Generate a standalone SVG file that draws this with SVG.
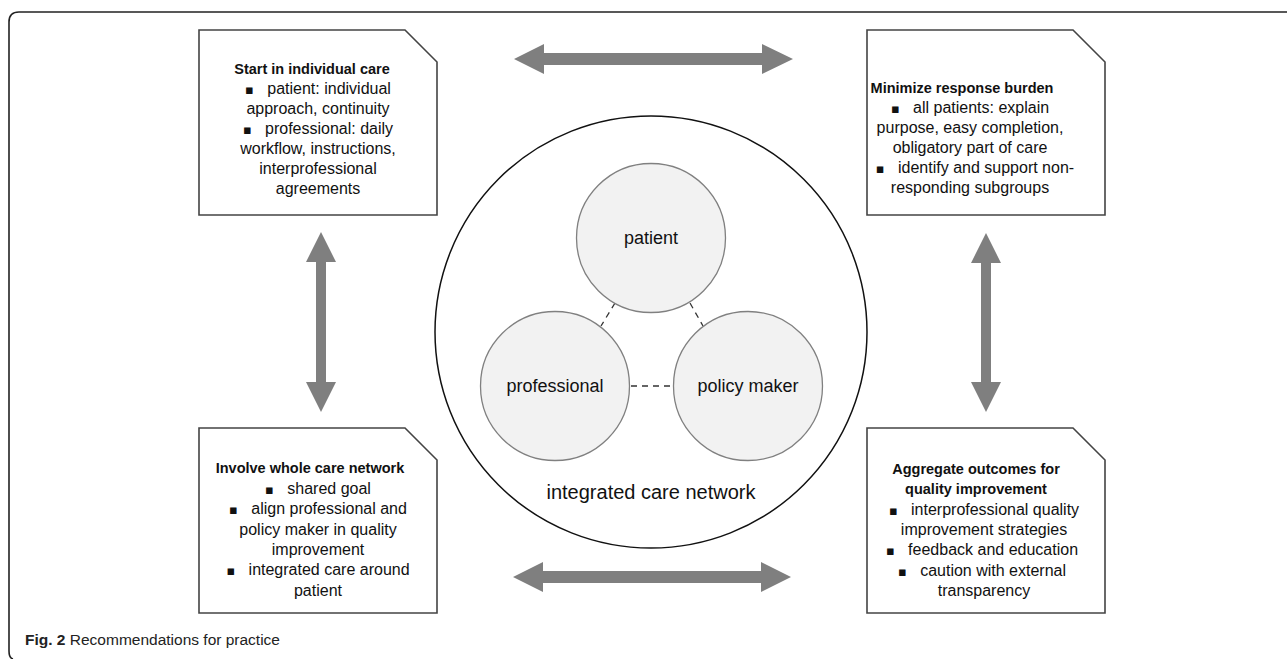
<svg xmlns="http://www.w3.org/2000/svg" width="1287" height="659" viewBox="0 0 1287 659">
  <defs>
    <style>
      .frame { fill: none; stroke: #222; stroke-width: 1.6; }
      .card path { fill: #fff; stroke: #444; stroke-width: 1.6; }
      .card text { font-family: "Liberation Sans", Arial, "DejaVu Sans", sans-serif; font-size: 16px; fill: #111; text-anchor: middle; white-space: pre; }
      .card text.title { font-weight: bold; font-size: 14.5px; }
      .card tspan.b { font-family: "DejaVu Sans", sans-serif; font-size: 13px; }
      .ring { fill: #fff; stroke: #111; stroke-width: 1.5; }
      .actor { fill: #f2f2f2; stroke: #808080; stroke-width: 1.3; }
      .lbl { font-family: "Liberation Sans", Arial, sans-serif; font-size: 18px; fill: #111; text-anchor: middle; }
      .link { stroke: #333; stroke-width: 1.3; stroke-dasharray: 6 5; fill: none; }
      .arrow { fill: #7f7f7f; }
      .caption { font-family: "Liberation Sans", Arial, sans-serif; font-size: 15.5px; fill: #222; }
    </style>
  </defs>

  <rect width="1287" height="659" fill="#fff"/>

  <!-- figure frame: rounded top-left corner, open on the right and bottom -->
  <path class="frame" d="M13,659 Q9,658 9,651 L9,22 Q9,12 19,12 L1287,12"/>

  <!-- double-headed arrows between the recommendation cards -->
  <g id="connectors">
    <!-- top: individual care <-> response burden -->
    <polygon class="arrow" points="514,59 544,44 544,53 762,53 762,44 793,59 762,74 762,65 544,65 544,74"/>
    <!-- bottom: care network <-> aggregate outcomes -->
    <polygon class="arrow" points="513,577 543,562 543,571 761,571 761,562 791,577 761,592 761,583 543,583 543,592"/>
    <!-- left: individual care <-> care network -->
    <polygon class="arrow" points="321,232 336,262 326,262 326,382 336,382 321,412 306,382 316,382 316,262 306,262"/>
    <!-- right: response burden <-> aggregate outcomes -->
    <polygon class="arrow" points="986,233 1001,263 991,263 991,382 1001,382 986,412 971,382 981,382 981,263 971,263"/>
  </g>

  <!-- central integrated care network -->
  <g id="network">
    <circle class="ring" cx="651" cy="332" r="216"/>
    <text class="lbl" x="651" y="499" style="font-size:20px">integrated care network</text>
    <g id="links">
      <line class="link" x1="615" y1="303" x2="601" y2="326"/>
      <line class="link" x1="690" y1="303" x2="703" y2="326"/>
      <line class="link" x1="631" y1="386" x2="673" y2="386"/>
    </g>
    <g id="patient">
      <circle class="actor" cx="651" cy="238" r="74.5"/>
      <text class="lbl" x="651" y="244">patient</text>
    </g>
    <g id="professional">
      <circle class="actor" cx="555" cy="386" r="74.5"/>
      <text class="lbl" x="555" y="392">professional</text>
    </g>
    <g id="policy-maker">
      <circle class="actor" cx="748" cy="386" r="74.5"/>
      <text class="lbl" x="748" y="392">policy maker</text>
    </g>
  </g>

  <!-- recommendation cards (folded top-right corner) -->
  <g id="card-individual-care" class="card">
    <path d="M199,30 L405,30 L437,62 L437,215 L199,215 Z"/>
    <text class="title" x="312" y="74">Start in individual care</text>
    <text x="318" y="94"><tspan class="b">▪</tspan>   patient: individual</text>
    <text x="318" y="114">approach, continuity</text>
    <text x="318" y="134"><tspan class="b">▪</tspan>   professional: daily</text>
    <text x="318" y="154">workflow, instructions,</text>
    <text x="318" y="174">interprofessional</text>
    <text x="318" y="194">agreements</text>
  </g>

  <g id="card-response-burden" class="card">
    <path d="M867,30 L1073,30 L1105,62 L1105,215 L867,215 Z"/>
    <text class="title" x="962" y="93">Minimize response burden</text>
    <text x="970" y="113"><tspan class="b">▪</tspan>   all patients: explain</text>
    <text x="970" y="133">purpose, easy completion,</text>
    <text x="970" y="153">obligatory part of care</text>
    <text x="975" y="173"><tspan class="b">▪</tspan>   identify and support non-</text>
    <text x="970" y="193">responding subgroups</text>
  </g>

  <g id="card-care-network" class="card">
    <path d="M199,428 L405,428 L437,460 L437,613 L199,613 Z"/>
    <text class="title" x="310" y="473">Involve whole care network</text>
    <text x="318" y="494"><tspan class="b">▪</tspan>   shared goal</text>
    <text x="318" y="514"><tspan class="b">▪</tspan>   align professional and</text>
    <text x="318" y="535">policy maker in quality</text>
    <text x="318" y="555">improvement</text>
    <text x="318" y="575"><tspan class="b">▪</tspan>   integrated care around</text>
    <text x="318" y="596">patient</text>
  </g>

  <g id="card-aggregate-outcomes" class="card">
    <path d="M867,428 L1073,428 L1105,460 L1105,613 L867,613 Z"/>
    <text class="title" x="976" y="474">Aggregate outcomes for</text>
    <text class="title" x="976" y="494">quality improvement</text>
    <text x="984" y="515"><tspan class="b">▪</tspan>   interprofessional quality</text>
    <text x="984" y="535">improvement strategies</text>
    <text x="982" y="555"><tspan class="b">▪</tspan>   feedback and education</text>
    <text x="982" y="576"><tspan class="b">▪</tspan>   caution with external</text>
    <text x="984" y="596">transparency</text>
  </g>

  <!-- caption -->
  <text class="caption" x="25" y="645"><tspan font-weight="bold">Fig. 2</tspan> Recommendations for practice</text>
</svg>
